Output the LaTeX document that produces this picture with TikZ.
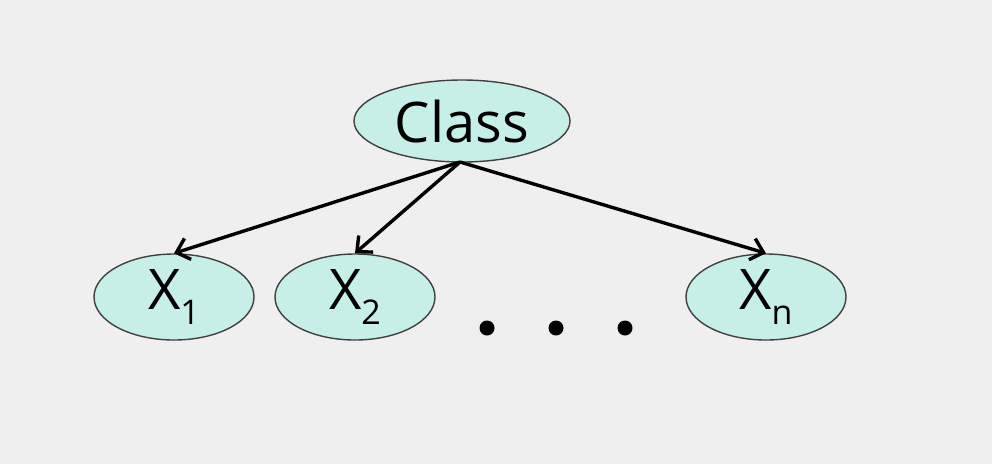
\documentclass[tikz,border=0pt]{standalone}
\usepackage{fontspec}
\setmainfont{Open Sans}
\usetikzlibrary{shapes.geometric,arrows.meta}
\definecolor{bg}{HTML}{EFEFEF}
\definecolor{nodefill}{HTML}{C8EEE8}
\newcommand{\subx}[1]{X\raisebox{-0.28em}{\fontsize{34}{34}\selectfont #1}}
\tikzset{
  var/.style={ellipse, draw=black!75, line width=1.4pt, fill=nodefill, inner sep=0pt,
    font=\fontsize{56}{60}\selectfont},
  edge/.style={line width=3.4pt, -{Straight Barb[length=12pt,width=22pt,line width=3.4pt]}},
  dot/.style={circle, fill=black, inner sep=0pt, minimum size=15pt}
}
\begin{document}
\begin{tikzpicture}[x=1pt,y=-1pt]
\fill[bg] (0,0) rectangle (992,464);
\useasboundingbox (0,0) rectangle (992,464);
\node[var, minimum width=216pt, minimum height=82pt] (cls) at (462,121) {Class};
\node[var, minimum width=160pt, minimum height=86pt] (x1) at (174,297) {\subx{1}};
\node[var, minimum width=160pt, minimum height=86pt] (x2) at (355,297) {\subx{2}};
\node[var, minimum width=160pt, minimum height=86pt] (xn) at (766,297) {\subx{n}};
\node[dot] (d1) at (487,328) {};
\node[dot] (d2) at (556,328) {};
\node[dot] (d3) at (625,328) {};
\coordinate (src) at (460,162);
\draw[edge] (src) -- (x1.north);
\draw[edge] (src) -- (x2.north);
\draw[edge] (src) -- (xn.north);
\end{tikzpicture}
\end{document}
